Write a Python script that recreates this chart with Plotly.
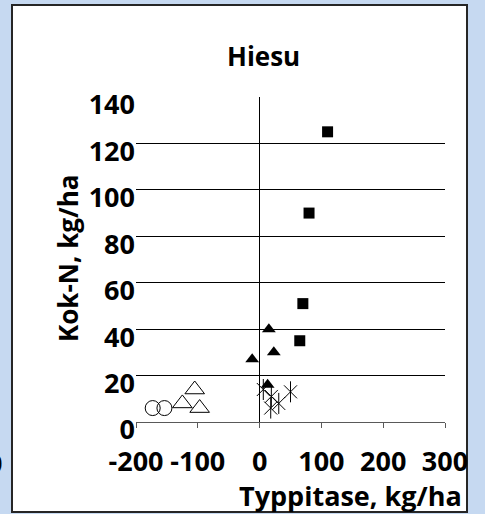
import plotly.graph_objects as go

# Hiesu soil: N balance (Typpitase) vs total N (Kok-N), kg/ha
sq_x = [110, 80, 70, 65]
sq_y = [125, 90, 51, 35]

tri_x = [15, 23, -12, 13]
tri_y = [40, 30, 27, 16]

circ_x = [-173, -154]
circ_y = [6, 6]

otri_x = [-125, -97, -105]
otri_y = [8, 6, 14]

star_x = [6, 19, 31, 18, 50]
star_y = [14, 11, 8, 6, 13]

x_ticks = [-200, -100, 0, 100, 200, 300]
y_ticks = [0, 20, 40, 60, 80, 100, 120, 140]

FONT = "Open Sans"
BLUE = "#c6d9f1"

fig = go.Figure()

fig.add_trace(go.Scatter(x=sq_x, y=sq_y, mode="markers",
                         marker=dict(symbol="square", size=11, color="black")))
fig.add_trace(go.Scatter(x=tri_x, y=tri_y, mode="markers",
                         marker=dict(symbol="triangle-up", size=12, color="black")))
fig.add_trace(go.Scatter(x=circ_x, y=circ_y, mode="markers",
                         marker=dict(symbol="circle-open", size=15, color="black",
                                     line=dict(width=1))))
fig.add_trace(go.Scatter(x=otri_x, y=otri_y, mode="markers",
                         marker=dict(symbol="triangle-up-open", size=17, color="black",
                                     line=dict(width=1))))
# star marker: an X with a vertical stroke
fig.add_trace(go.Scatter(x=star_x, y=star_y, mode="markers",
                         marker=dict(symbol="x-thin-open", size=13, color="black",
                                     line=dict(width=1))))
fig.add_trace(go.Scatter(x=star_x, y=star_y, mode="markers",
                         marker=dict(symbol="line-ns-open", size=15, color="black",
                                     line=dict(width=1))))

L, R, T, B = 136, 40, 97, 92
W, H = 485, 514
pw, ph = W - L - R, H - T - B


def px_x(p):
    return (p - L) / pw


def px_y(p):
    return (H - B - p) / ph


# white chart box with dark frame
fig.add_shape(type="rect", xref="paper", yref="paper",
              x0=px_x(12), x1=px_x(467), y0=px_y(512), y1=px_y(5),
              fillcolor="white", line=dict(color="#262626", width=2), layer="below")

fig.add_annotation(text="Hiesu", xref="paper", yref="paper",
                   x=px_x(263), y=px_y(56), xanchor="center", yanchor="middle",
                   showarrow=False, font=dict(family=FONT, size=26, color="black", weight="bold"))
fig.add_annotation(text="Kok-N, kg/ha", xref="paper", yref="paper", textangle=-90,
                   x=px_x(68), y=px_y(258), xanchor="center", yanchor="middle",
                   showarrow=False, font=dict(family=FONT, size=26, color="black", weight="bold"))
fig.add_annotation(text="Typpitase, kg/ha", xref="paper", yref="paper",
                   x=px_x(350), y=px_y(495), xanchor="center", yanchor="middle",
                   showarrow=False, font=dict(family=FONT, size=27, color="black", weight="bold"))
fig.add_annotation(text="0", xref="paper", yref="paper",
                   x=px_x(4), y=px_y(462), xanchor="right", yanchor="middle",
                   showarrow=False, font=dict(family=FONT, size=27, color="black", weight="bold"))

fig.update_layout(
    width=W, height=H,
    margin=dict(l=L, r=R, t=T, b=B, autoexpand=False),
    paper_bgcolor=BLUE, plot_bgcolor="white",
    showlegend=False,
    xaxis=dict(range=[-200, 300], tickvals=x_ticks, ticktext=[str(v) for v in x_ticks],
               showgrid=False, zeroline=True, zerolinecolor="black", zerolinewidth=1,
               showline=True, linecolor="#595959", linewidth=1,
               ticks="outside", ticklen=5, tickcolor="#595959",
               ticklabelstandoff=11,
               tickfont=dict(family=FONT, size=27, color="black", weight="bold")),
    yaxis=dict(range=[0, 140], tickvals=y_ticks, ticktext=[str(v) for v in y_ticks],
               showgrid=True, gridcolor="black", gridwidth=1,
               zeroline=False, showline=False, ticks="",
               ticklabelshift=8, ticklabelstandoff=0,
               tickfont=dict(family=FONT, size=27, color="black", weight="bold")),
)

fig.write_html("out.html")
